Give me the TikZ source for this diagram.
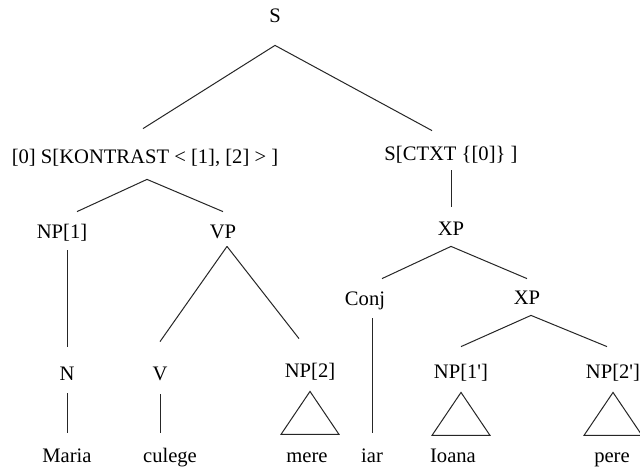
\documentclass[tikz,border=0pt]{standalone}
\usepackage{fontspec}
\setmainfont{Liberation Serif}
\usepackage{tikz}

\begin{document}
\begin{tikzpicture}[
    x=0.5pt, y=-0.5pt,
    every node/.style={inner sep=0pt, text height=7pt, text depth=2pt, font=\fontsize{10.3}{12}\selectfont},
    branch/.style={line width=0.5pt, black!85},
    roof/.style={branch, line join=miter}
]
\useasboundingbox[fill=white] (0,0) rectangle (640,470);

% ==================== PHRASE NODES ====================
\node (s)    at (275,18)  {S};
\node (kon)  at (145,158) {[0] S[KONTRAST < [1], [2] > ]};
\node (ctxt) at (451,155) {S[CTXT \{[0]\} ]};
\node (np1)  at (62,233)  {NP[1]};
\node (vp)   at (223,233) {VP};
\node (xp)   at (451,230) {XP};
\node (conj) at (365,300) {Conj};
\node (xp2)  at (527,299) {XP};
\node (n)    at (67,375)  {N};
\node (v)    at (160,375) {V};
\node (np2)  at (310,372) {NP[2]};
\node (np1p) at (461,373) {NP[1\textquotesingle]};
\node (np2p) at (613,373) {NP[2\textquotesingle]};

% ==================== WORDS ====================
\node (maria)  at (67,457)  {Maria};
\node (culege) at (170,457) {culege};
\node (mere)   at (307,457) {mere};
\node (iar)    at (372,457) {iar};
\node (ioana)  at (453,457) {Ioana};
\node (pere)   at (612,457) {pere};

% branches: parent/xshift/gap below/child/xshift/gap above
\foreach \a/\sx/\sy/\b/\ex/\ey in {
    s/0/9/kon/-1/10,
    s/0/9/ctxt/-9.5/7.5,
    kon/1/6/np1/7.5/6,
    kon/1/6/vp/0/6,
    ctxt/0/3/xp/0/7,
    np1/2.5/4/n/0/9.5,
    vp/2/2/v/0/12,
    vp/2/2/np2/-5.5/12,
    xp/0/3.5/conj/8.5/6,
    xp/0/3.5/xp2/0/5.5,
    xp2/2/3.5/np1p/0/8.5,
    xp2/2/3.5/np2p/-3/8.5,
    n/0/4.5/maria/0/7.5,
    v/0/5/culege/-5/7.5,
    conj/3.5/4.5/iar/0/7.5
} {
    \draw[branch] ([xshift=\sx pt, yshift=-\sy pt]\a.south) -- ([xshift=\ex pt, yshift=\ey pt]\b.north);
}

% triangles (roofs)
\foreach \p in {np2, np1p, np2p} {
    \draw[roof] ([yshift=-5pt]\p.south) -- ++(-14.5pt,-21.5pt) -- ++(29pt,0) -- cycle;
    \draw[branch, line width=0.9pt] ([yshift=-5pt]\p.south) ++(-14.5pt,-21.5pt) -- ++(29pt,0);
}

\end{tikzpicture}
\end{document}
